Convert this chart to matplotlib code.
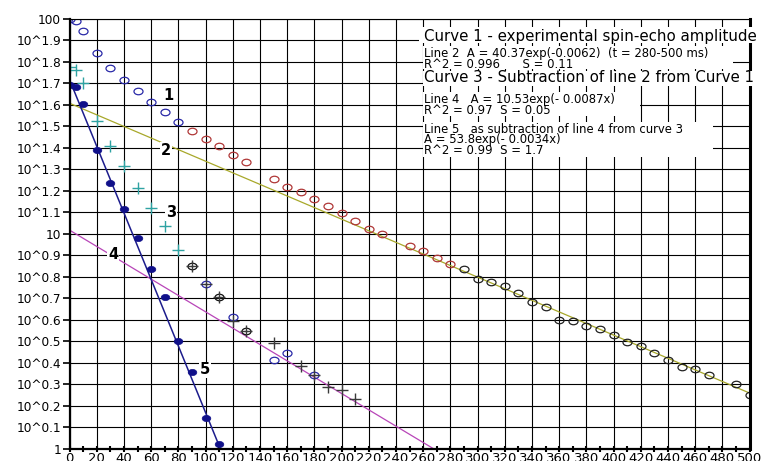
import matplotlib
matplotlib.use('Agg')
import matplotlib.pyplot as plt
from matplotlib.path import Path
from matplotlib.patches import Rectangle
from matplotlib.transforms import Affine2D

# curve 1 - experimental spin-echo amplitude
c1_blue_x = [0, 5, 10, 20, 30, 40, 50, 60, 70, 80]
c1_blue_y = [100, 97.3, 87.7, 69.2, 59.0, 52.0, 46.2, 40.8, 36.8, 33.0]
c1_red_x = [90, 100, 110, 120, 130, 150, 160, 170, 180, 190, 200, 210, 220, 230, 250, 260, 270, 280]
c1_red_y = [29.9, 27.5, 25.5, 23.1, 21.5, 18.0, 16.5, 15.6, 14.5, 13.4, 12.5, 11.5, 10.5, 9.98,
            8.73, 8.34, 7.71, 7.24]
c1_black_x = [290, 300, 310, 320, 330, 340, 350, 360, 370, 380, 390, 400, 410, 420, 430, 440,
              450, 460, 470, 490, 500]
c1_black_y = [6.87, 6.18, 5.98, 5.69, 5.30, 4.84, 4.59, 3.98, 3.95, 3.71, 3.61, 3.39, 3.13, 3.01,
              2.79, 2.58, 2.40, 2.35, 2.21, 2.00, 1.78]

# curve 3 - subtraction of line 2 from curve 1
c3_x = [0, 5, 10, 20, 30, 40, 50, 60, 70, 80]
c3_y = [59.4, 57.9, 50.2, 33.3, 25.5, 20.6, 16.4, 13.2, 10.9, 8.43]
c3_late_x = [90, 100, 110, 120, 130, 150, 170, 180, 190, 200, 210]
c3_late_y = [7.10, 5.83, 5.08, 3.94, 3.52, 3.10, 2.42, 2.21, 1.94, 1.88, 1.70]
c3_ring_black_x = [90, 110, 130]
c3_ring_black_y = [7.10, 5.08, 3.52]
c3_ring_blue_x = [100, 120, 150, 160, 180]
c3_ring_blue_y = [5.83, 4.10, 2.59, 2.79, 2.21]

# line 5 points
c5_x = [0, 5, 10, 20, 30, 40, 50, 60, 70, 80, 90, 100, 110]
c5_y = [49.3, 48.1, 40.1, 24.6, 17.3, 13.1, 9.55, 6.85, 5.08, 3.19, 2.29, 1.40, 1.05]

# fitted lines (end points)
line2_x = [0, 500]
line2_y = [40.4, 1.82]
line4_x = [0, 268]
line4_y = [10.4, 1.0]
line5_x = [0, 111]
line5_y = [52.0, 1.0]

xticks = list(range(0, 501, 20))
ytick_pow = [k / 10 for k in range(0, 21)]
ytick_labels = ['1' if p == 0 else '10' if p == 1 else '100' if p == 2 else '10^%.1f' % p
                for p in ytick_pow]

curve_labels = ['1', '2', '3', '4', '5']
curve_label_x = [72.4, 70.7, 74.6, 32.2, 99.6]
curve_label_y = [44.0, 24.4, 12.5, 7.98, 2.33]

# legend text, one entry per white block: (lines, font size)
legend_blocks = [
    (['Curve 1 - experimental spin-echo amplitude'], 10.8),
    (['Line 2  A = 40.37exp(-0.0062)  (t = 280-500 ms)', 'R^2 = 0.996      S = 0.11'], 8.4),
    (['Curve 3 - Subtraction of line 2 from Curve 1'], 10.8),
    (['Line 4   A = 10.53exp(- 0.0087x)', 'R^2 = 0.97  S = 0.05'], 8.4),
    (['Line 5   as subtraction of line 4 from curve 3', 'A = 53.8exp(- 0.0034x)', 'R^2 = 0.99  S = 1.7'], 8.4),
]
# pixel layout of the blocks: box (x0, y0, x1, y1) and baselines
block_boxes = [(419, 27, 772, 43), (422.5, 46, 733, 69.5), (422.5, 71, 766, 86),
               (422.5, 92, 640, 116), (422.5, 122, 713, 157)]
block_baselines = [[40.7], [56.7, 67.7], [82.3], [103.3, 114.0], [132.7, 143.0], ]
block_baselines[4].append(153.5)

W, H = 771, 461
oval = Affine2D().scale(1.0, 0.72).transform_path(Path.unit_circle())

fig = plt.figure(figsize=(W / 100, H / 100), dpi=100)
ax = fig.add_axes([69.5 / W, 12 / H, 680 / W, 430.5 / H])
ax.set_yscale('log')
ax.set_xlim(0, 500)
ax.set_ylim(1, 100)

ax.set_xticks(xticks)
ax.set_xticklabels([str(t) for t in xticks], fontsize=9.5)
ax.set_xticks(list(range(0, 501, 10)), minor=True)
ax.set_yticks([10 ** p for p in ytick_pow])
ax.set_yticklabels(ytick_labels, fontsize=8.7)
ax.yaxis.set_minor_locator(matplotlib.ticker.NullLocator())
ax.tick_params(axis='x', which='both', direction='inout', length=5, width=1.5, pad=0)
ax.tick_params(axis='y', direction='out', length=5, width=1.2, pad=1)
ax.grid(True, which='major', color='black', linewidth=0.8)
ax.set_axisbelow(True)
for s, lw in [('left', 1.6), ('bottom', 1.6), ('right', 2.2), ('top', 0.8)]:
    ax.spines[s].set_linewidth(lw)

ax.plot(line2_x, line2_y, color='#a8a82a', linewidth=0.9)
ax.plot(line4_x, line4_y, color='#b845b8', linewidth=0.9)
ax.plot(line5_x, line5_y, color='#1c1c8c', linewidth=1.1)

ax.plot(c1_blue_x, c1_blue_y, linestyle='none', marker=oval, ms=6.5, mfc='none', mec='#2a2aa8', mew=0.9)
ax.plot(c1_red_x, c1_red_y, linestyle='none', marker=oval, ms=6.5, mfc='none', mec='#b03838', mew=0.9)
ax.plot(c1_black_x, c1_black_y, linestyle='none', marker=oval, ms=6.5, mfc='none', mec='#222222', mew=0.9)

ax.plot(c3_x, c3_y, linestyle='none', marker='+', ms=8.5, mec='#2fa3a3', mew=1.0)
ax.plot(c3_ring_blue_x, c3_ring_blue_y, linestyle='none', marker=oval, ms=6.5, mfc='none', mec='#2a2aa8', mew=0.9)
ax.plot(c3_ring_black_x, c3_ring_black_y, linestyle='none', marker=oval, ms=6.5, mfc='none', mec='#111111', mew=0.9)
ax.plot(c3_late_x, c3_late_y, linestyle='none', marker='+', ms=8.5, mec='#3a3a3a', mew=1.0)

ax.plot(c5_x, c5_y, linestyle='none', marker=oval, ms=6.2, mfc='#10108a', mec='#10108a', mew=0.5)

num_box = dict(facecolor='white', edgecolor='none', pad=0.6)
for lab, tx, ty in zip(curve_labels, curve_label_x, curve_label_y):
    ax.text(tx, ty, lab, fontsize=10.5, fontweight='bold', ha='center', va='center', bbox=num_box, zorder=5)

# white blocks with the fit results, placed in figure pixels
for (lines, fs), (x0, y0, x1, y1), bases in zip(legend_blocks, block_boxes, block_baselines):
    fig.add_artist(Rectangle((x0 / W, 1 - y1 / H), (x1 - x0) / W, (y1 - y0) / H,
                             transform=fig.transFigure, facecolor='white', edgecolor='none', zorder=4))
    for line, b in zip(lines, bases):
        fig.text(424 / W, 1 - b / H, line, fontsize=fs, ha='left', va='baseline', zorder=5)

fig.savefig('out.png', dpi=100)
